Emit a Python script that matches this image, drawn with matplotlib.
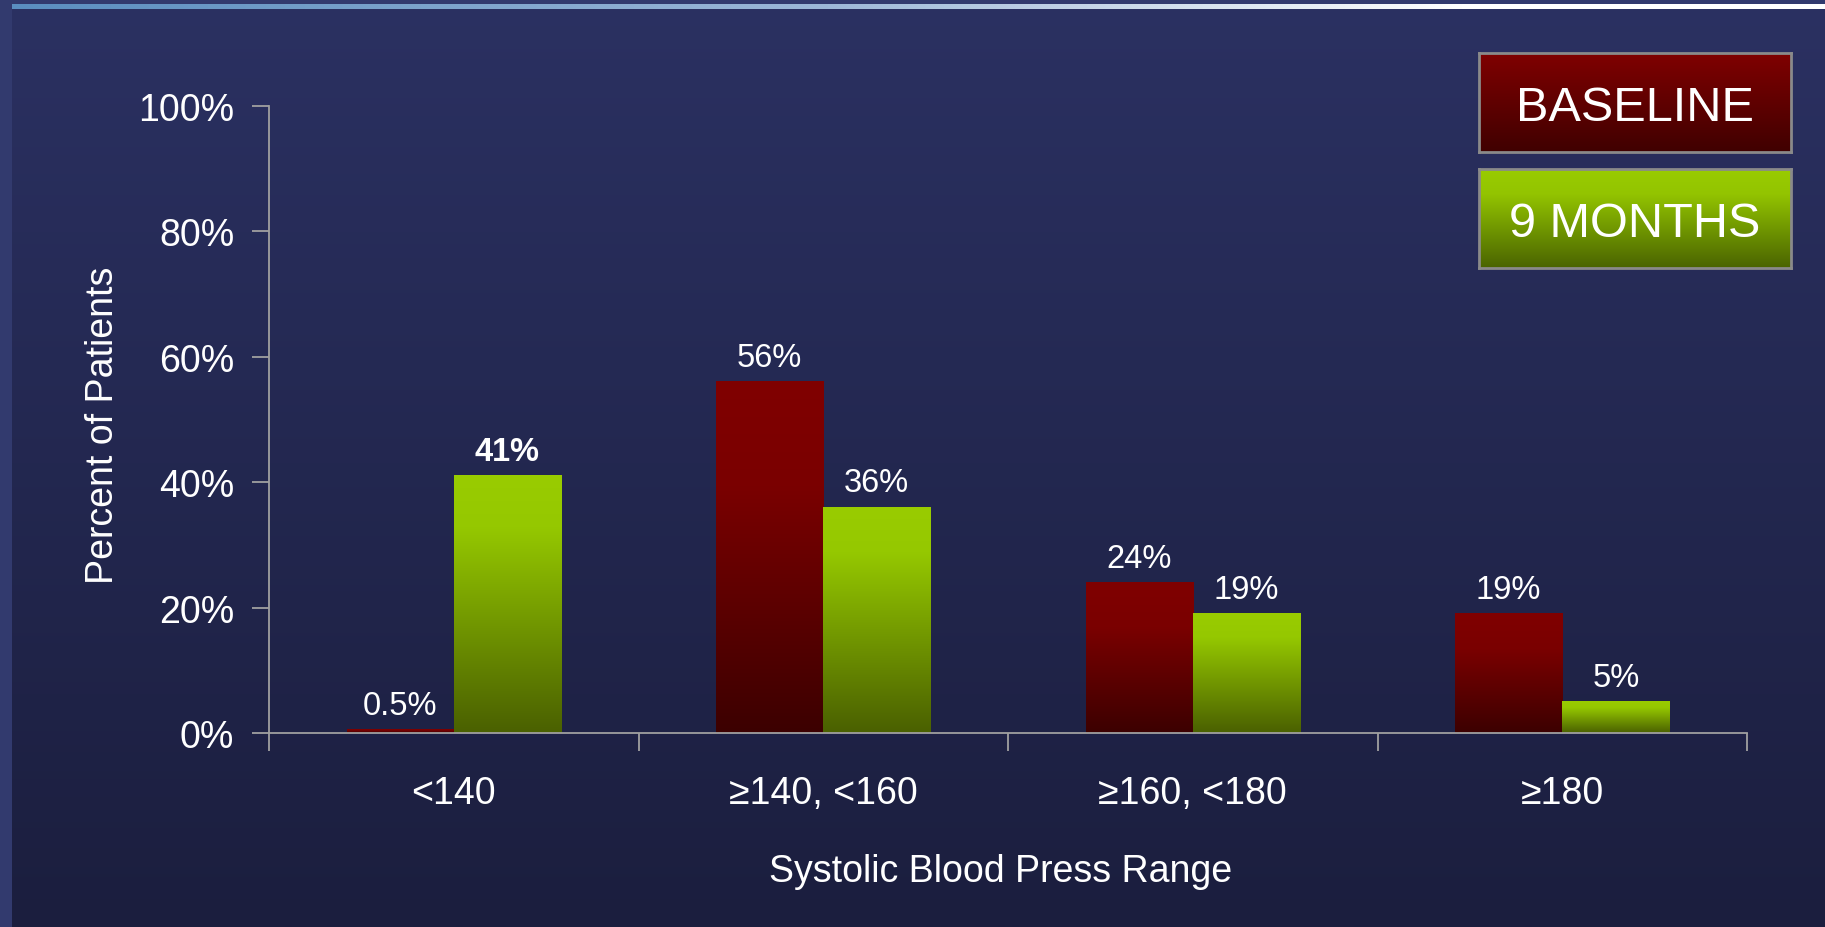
import numpy as np
import matplotlib
matplotlib.use("Agg")
import matplotlib.pyplot as plt
from matplotlib.colors import to_rgb
from matplotlib.patches import Rectangle

# ---- data ----
categories = ["<140", "\u2265140, <160", "\u2265160, <180", "\u2265180"]
baseline = [0.5, 56, 24, 19]
nine_months = [41, 36, 19, 5]
baseline_labels = ["0.5%", "56%", "24%", "19%"]
nine_month_labels = ["41%", "36%", "19%", "5%"]
bold_labels = {"41%"}
yticks = [0, 20, 40, 60, 80, 100]
ytick_labels = ["0%", "20%", "40%", "60%", "80%", "100%"]

FONT = "Liberation Sans"
plt.rcParams["font.family"] = [FONT, "DejaVu Sans"]

W, H = 1825, 928
fig = plt.figure(figsize=(W / 100, H / 100), dpi=100)


def vgrad(stops, n=256):
    """Vertical RGB gradient, row 0 = top."""
    pos = [p for p, _ in stops]
    cols = np.array([to_rgb(c) for _, c in stops])
    t = np.linspace(0, 1, n)
    arr = np.stack([np.interp(t, pos, cols[:, k]) for k in range(3)], axis=-1)
    return arr[:, None, :]


def hgrad(stops, n=512):
    pos = [p for p, _ in stops]
    cols = np.array([to_rgb(c) for _, c in stops])
    t = np.linspace(0, 1, n)
    arr = np.stack([np.interp(t, pos, cols[:, k]) for k in range(3)], axis=-1)
    return arr[None, :, :]


RED_STOPS = [(0, "#800000"), (0.3, "#7a0000"), (1, "#3c0000")]
GREEN_STOPS = [(0, "#99cc00"), (0.2, "#95c800"), (1, "#4a6000")]

# ---- background ----
bg = fig.add_axes([0, 0, 1, 1], zorder=-10)
bg.imshow(vgrad([(0, "#2b3162"), (1, "#1b1e3e")]), extent=[0, W, 0, H],
          aspect="auto", interpolation="bilinear")
bg.add_patch(Rectangle((0, 0), 12, H, color="#323a6e", lw=0))
bg.add_patch(Rectangle((0, H - 5), W, 5, color="#323a6e", lw=0))
bg.imshow(hgrad([(0, "#5a8ec0"), (0.45, "#9db8d8"), (0.8, "#ffffff"), (1, "#ffffff")]),
          extent=[12, W, H - 10, H - 5], aspect="auto", interpolation="bilinear")
bg.set_xlim(0, W)
bg.set_ylim(0, H)
bg.axis("off")

# ---- main axes ----
x0, x1 = 269, 1747
y0, y1 = 734, 107
ax = fig.add_axes([x0 / W, 1 - y0 / H, (x1 - x0) / W, (y0 - y1) / H])
ax.patch.set_alpha(0)

bw = 0.29
centers = np.arange(len(categories)) + 0.5


def grad_bar(xl, xr, h, stops):
    ax.imshow(vgrad(stops), extent=[xl, xr, 0, h], aspect="auto",
              interpolation="bilinear", zorder=2)


for c, b, g, bl, gl in zip(centers, baseline, nine_months, baseline_labels, nine_month_labels):
    grad_bar(c - bw, c, b, RED_STOPS)
    grad_bar(c, c + bw, g, GREEN_STOPS)
    for xc, v, lab in ((c - bw / 2, b, bl), (c + bw / 2, g, gl)):
        ax.annotate(lab, (xc, v), xytext=(0, 11.5), textcoords="offset points",
                    ha="center", va="baseline", color="white", fontsize=23.5,
                    fontweight="bold" if lab in bold_labels else "normal")

ax.set_xlim(0, len(categories))
ax.set_ylim(0, 100)

axis_col = "#a0a0a0"
for s in ("top", "right"):
    ax.spines[s].set_visible(False)
for s in ("left", "bottom"):
    ax.spines[s].set_color(axis_col)
    ax.spines[s].set_linewidth(1.3)

ax.set_yticks(yticks)
ax.set_yticklabels(ytick_labels)
ax.tick_params(axis="y", direction="out", length=12, width=1.3, color=axis_col,
               labelcolor="white", labelsize=27, pad=13)

ax.set_xticks(np.arange(len(categories) + 1))
ax.set_xticklabels([])
ax.set_xticks(centers, minor=True)
ax.set_xticklabels(categories, minor=True)
ax.tick_params(axis="x", which="major", direction="out", length=13, width=1.3, color=axis_col)
ax.tick_params(axis="x", which="minor", length=0, labelcolor="white", labelsize=27, pad=30.5)

fig.text(1001 / W, 1 - 872 / H, "Systolic Blood Press Range", ha="center", va="center",
         color="white", fontsize=27)
fig.text(103 / W, 1 - 425 / H, "Percent of Patients", ha="center", va="center",
         rotation=90, color="white", fontsize=27)

# ---- legend boxes ----
def legend_box(left, top, right, bottom, stops, text):
    lax = fig.add_axes([left / W, 1 - bottom / H, (right - left) / W, (bottom - top) / H])
    lax.imshow(vgrad(stops), extent=[0, 1, 0, 1], aspect="auto", interpolation="bilinear")
    lax.set_xlim(0, 1)
    lax.set_ylim(0, 1)
    lax.set_xticks([])
    lax.set_yticks([])
    for s in lax.spines.values():
        s.set_color("#8a8a8a")
        s.set_linewidth(2)
    lax.text(0.5, 0.32, text, ha="center", va="baseline", color="white", fontsize=35,
             transform=lax.transAxes)


legend_box(1479, 54, 1791, 153, [(0, "#800000"), (1, "#400000")], "BASELINE")
legend_box(1479, 170, 1791, 269, [(0, "#99cc00"), (0.25, "#93c400"), (1, "#4a6400")], "9 MONTHS")

fig.savefig("out.png", dpi=100)
